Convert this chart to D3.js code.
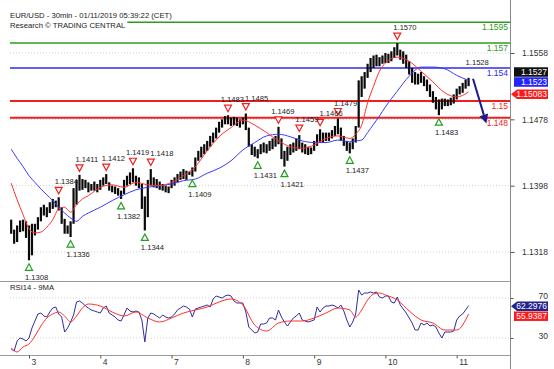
<!DOCTYPE html>
<html><head><meta charset="utf-8">
<script src="https://cdn.jsdelivr.net/npm/d3@7"></script>
<style>body{margin:0;background:#fff}svg{display:block}text{font-family:"Liberation Sans",Arial,sans-serif}</style>
</head><body><svg id="c" width="554" height="369"></svg>
<script>
// ---------- DATA ----------
const title1 = "EUR/USD - 30min - 01/11/2019 05:39:22 (CET)";
const title2 = "Research \u00A9 TRADING CENTRAL";
const rsiTitle = "RSI14 - 9MA";
const firstHour = -6; // hourly bars, hour 0 = day "3" 00:00 (trading time)
const highs = [
 1.1357,1.1345,1.1350,1.1356,1.1357,1.1355,1.1350,
 1.1352,1.1352,1.1360,1.1372,1.1375,1.1372,1.1378,1.1382,1.1380,1.1384,
 1.1372,1.1358,1.1350,1.1355,1.1395,1.1405,1.1411,1.1406,1.1405,1.1402,
 1.1400,1.1403,1.1400,1.1405,1.1408,1.1412,1.1402,1.1398,1.1397,1.1395,
 1.1392,1.1405,1.1410,1.1414,1.1419,1.1410,1.1408,1.1400,1.1385,1.1405,
 1.1418,1.1408,1.1406,1.1403,1.1400,1.1398,1.1397,1.1405,1.1408,1.1412,
 1.1415,1.1418,1.1416,1.1415,1.1420,1.1432,1.1440,1.1445,1.1448,1.1452,
 1.1458,1.1462,1.1468,1.1475,1.1478,1.1482,1.1483,1.1480,1.1481,1.1480,
 1.1478,1.1480,1.1485,1.1468,1.1448,1.1445,1.1442,1.1448,1.1450,1.1448,
 1.1452,1.1455,1.1458,1.1469,1.1455,1.1440,1.1445,1.1448,1.1450,1.1455,
 1.1459,1.1450,1.1448,1.1445,1.1444,1.1452,1.1460,1.1466,1.1462,1.1462,
 1.1462,1.1465,1.1470,1.1479,1.1468,1.1458,1.1452,1.1450,1.1455,1.1470,
 1.1525,1.1530,1.1535,1.1545,1.1552,1.1555,1.1556,1.1553,1.1555,1.1558,
 1.1557,1.1560,1.1565,1.1570,1.1562,1.1560,1.1556,1.1548,1.1540,1.1535,
 1.1533,1.1535,1.1530,1.1526,1.1520,1.1512,1.1505,1.1502,1.1503,1.1503,
 1.1502,1.1504,1.1508,1.1515,1.1518,1.1522,1.1526,1.1528];
const lows = [
 1.1340,1.1328,1.1330,1.1342,1.1343,1.1335,1.1308,
 1.1314,1.1338,1.1345,1.1355,1.1362,1.1360,1.1365,1.1370,1.1372,1.1368,
 1.1352,1.1340,1.1340,1.1336,1.1352,1.1375,1.1392,1.1393,1.1395,1.1390,
 1.1392,1.1392,1.1390,1.1393,1.1398,1.1400,1.1392,1.1390,1.1388,1.1386,
 1.1382,1.1388,1.1398,1.1400,1.1402,1.1398,1.1395,1.1370,1.1344,1.1360,
 1.1398,1.1396,1.1395,1.1393,1.1392,1.1390,1.1389,1.1395,1.1398,1.1402,
 1.1405,1.1406,1.1405,1.1411,1.1409,1.1415,1.1428,1.1432,1.1436,1.1440,
 1.1445,1.1450,1.1455,1.1462,1.1468,1.1472,1.1472,1.1470,1.1471,1.1470,
 1.1468,1.1472,1.1465,1.1445,1.1435,1.1433,1.1431,1.1436,1.1438,1.1437,
 1.1440,1.1442,1.1445,1.1448,1.1430,1.1421,1.1428,1.1435,1.1438,1.1440,
 1.1442,1.1438,1.1436,1.1435,1.1436,1.1440,1.1446,1.1450,1.1450,1.1452,
 1.1452,1.1455,1.1458,1.1460,1.1452,1.1446,1.1440,1.1437,1.1442,1.1450,
 1.1468,1.1505,1.1515,1.1528,1.1535,1.1540,1.1542,1.1542,1.1545,1.1546,
 1.1546,1.1548,1.1552,1.1555,1.1550,1.1545,1.1540,1.1532,1.1522,1.1520,
 1.1520,1.1522,1.1518,1.1512,1.1505,1.1498,1.1490,1.1483,1.1490,1.1494,
 1.1494,1.1495,1.1497,1.1502,1.1508,1.1510,1.1515,1.1518];
const maHours = [-6,-4,-2,0,2,4,6,8,10,12,14,16,18,20,24,28,32,36,40,44,48,52,56,60,64,68,72,76,80,84,88,92,96,100,104,108,110,112,114,116,118,120,124,128,132,136,140,144,148];
const redMA = [1.1401,1.1381,1.1363,1.1346,1.1341,1.1342,1.1348,1.1357,1.1370,1.1372,1.1366,1.1375,1.1382,1.1386,1.1396,1.1399,1.1396,1.1402,1.1399,1.1398,1.1402,1.1410,1.1421,1.1440,1.1457,1.1468,1.1477,1.1471,1.1462,1.1452,1.1445,1.1443,1.1447,1.1455,1.1458,1.1455,1.1460,1.1471,1.1498,1.1518,1.1536,1.1546,1.1553,1.1548,1.1536,1.1523,1.1510,1.1505,1.1511];
const blueMA = [1.1442,1.1431,1.1421,1.1410,1.1402,1.1394,1.1387,1.1380,1.1372,1.1365,1.1359,1.1355,1.1361,1.1365,1.1372,1.1380,1.1387,1.1393,1.1396,1.1398,1.1400,1.1404,1.1406,1.1413,1.1419,1.1428,1.1441,1.1450,1.1458,1.1460,1.1457,1.1452,1.1450,1.1450,1.1453,1.1451,1.1452,1.1453,1.1462,1.1472,1.1482,1.1493,1.1512,1.1530,1.1541,1.1541,1.1539,1.1531,1.1525];
const rsi = [
 19,17,27,30,29,27,30,
 40,47,54,55,52,51,56,60,61,54,
 51,36,40,46,53,66,67,65,62,60,
 58,57,56,55,60,62,55,53,51,48,
 47,53,60,57,56,57,56,48,26,50,
 55,54,52,50,53,51,50,51,54,58,
 60,62,61,59,51,59,60,61,62,63,
 61,69,72,71,70,72,73,72,67,65,
 65,65,56,41,38,35,36,44,44,45,
 50,50,48,58,51,46,42,46,50,52,
 55,48,47,46,47,48,61,56,60,62,
 62,63,62,60,63,57,48,41,46,54,
 78,73,75,75,76,75,76,71,70,72,
 72,66,65,71,63,59,55,50,45,38,
 38,45,43,45,42,43,41,35,30,36,
 36,36,37,48,52,54,58,62.3];
const rsiMA = [20,16,21,24,32,42,50,54,56,52,46,52,60,64,62,56,52,56,50,46,50,55,58,61,66,69,63,43,37,45,47,47,50,55,60,58,51,58,68,74,75,73,68,57,48,45,38,38,54];
const dayTicks = [0,24,48,72,96,120,144];
const dayLabels = ["3","4","7","8","9","10","11"];
const priceTicks = [1.1318,1.1398,1.1478,1.1558];
const rsiTicks = [30,70];
const levelValues = [1.1595,1.157,1.154,1.15,1.148];
const levelLabels = ["1.1595","1.157","1.154","1.15","1.148"];
const resistHours = [10,17,26,35,41,67,73,84,91,98,104,124];
const resistValues = [1.1384,1.1411,1.1412,1.1419,1.1418,1.1483,1.1485,1.1469,1.1459,1.1466,1.1479,1.1570];
const supportHours = [0,14,31,39,55,77,86,108,138];
const supportValues = [1.1308,1.1336,1.1382,1.1344,1.1409,1.1431,1.1421,1.1437,1.1483];
const lastHighHour = 148, lastHighValue = 1.1528;
const lastClose = 1.1527, lastBlueMA = 1.1523, lastRedMA = 1.15083;
const lastRsi = 62.2976, lastRsiMA = 55.9387;
const forecastHours = [149.5, 154];
const forecastValues = [1.1527, 1.1473];

// ---------- DRAW ----------
const svg = d3.select("#c");
const plotL = 10, plotR = 510;
const x = d3.scaleLinear().domain([0,144]).range([29,456.7]);
const y = d3.scaleLinear().domain([1.1318,1.1558]).range([252,53]);
const yr = d3.scaleLinear().domain([30,70]).range([338,298]);

const levelColors = ["#2f9a22","#2f9a22","#2b2bf0","#f01e1e","#f01e1e"];
const levelWidths = [1.5,1.5,1.6,2,2];
const annFont = 7.6;

// grid
const grid = svg.append("g");
priceTicks.forEach(v => grid.append("line").attr("x1",plotL).attr("x2",plotR).attr("y1",y(v)).attr("y2",y(v))
  .attr("stroke","#cfcfcf").attr("stroke-dasharray","1,2"));
rsiTicks.forEach(v => grid.append("line").attr("x1",plotL).attr("x2",plotR).attr("y1",yr(v)).attr("y2",yr(v))
  .attr("stroke","#cfcfcf").attr("stroke-dasharray","1,2"));

// level lines
levelValues.forEach((v,i) => {
  svg.append("line").attr("x1",plotL).attr("x2",plotR).attr("y1",y(v)).attr("y2",y(v))
    .attr("stroke",levelColors[i]).attr("stroke-width",levelWidths[i]);
});

// candles (high-low bars)
svg.append("g").selectAll("rect").data(highs).join("rect")
  .attr("x",(d,i)=>x(firstHour+i)-1.1).attr("width",2.2)
  .attr("y",d=>y(d)).attr("height",(d,i)=>Math.max(1,y(lows[i])-y(d)))
  .attr("fill","#0a0a0a");

// moving averages
const maLine = d3.line().x((d,i)=>x(maHours[i])).y(d=>y(d)).curve(d3.curveMonotoneX);
svg.append("path").attr("d",maLine(blueMA)).attr("fill","none").attr("stroke","#3a3aff").attr("stroke-width",1);
svg.append("path").attr("d",maLine(redMA)).attr("fill","none").attr("stroke","#ff3030").attr("stroke-width",1);

// level labels
levelValues.forEach((v,i) => {
  svg.append("text").attr("x",508).attr("y",y(v)+8).attr("text-anchor","end")
    .attr("font-size",8.5).attr("fill",levelColors[i]).text(levelLabels[i]);
});

// label placement helper: avoid overlap between neighbouring labels on similar rows
function placeLabels(texts){
  const items = texts.map(t => ({t, x:+t.attr("x"), y:+t.attr("y"), w:t.node().getComputedTextLength()}));
  for(let k=0;k<3;k++){
    for(let i=1;i<items.length;i++){
      const a=items[i-1], b=items[i];
      if(Math.abs(a.y-b.y) < 9){
        const ov = a.x + a.w + 1 - b.x;
        if(ov > 0){ a.x -= ov/2; b.x += ov/2; }
      }
    }
  }
  items.forEach(it => it.t.attr("x", it.x));
}

const markG = svg.append("g");
const labelG = svg.append("g");
// resistance markers
const rTexts = [];
resistHours.forEach((h,i) => {
  const cx = x(h), cy = y(resistValues[i]) - 7;
  markG.append("path").attr("d",`M${cx-3.5},${cy-3}L${cx+3.5},${cy-3}L${cx},${cy+3.5}Z`)
    .attr("fill","#fff").attr("stroke","#f02020").attr("stroke-width",1.2);
  rTexts.push(labelG.append("text").attr("x",cx-4).attr("y",y(resistValues[i])-13).attr("font-size",annFont)
    .attr("fill","#222").text(resistValues[i].toFixed(4)));
});
placeLabels(rTexts);
labelG.append("text").attr("x",x(lastHighHour)-3).attr("y",y(lastHighValue)-13).attr("font-size",annFont)
  .attr("fill","#222").text(lastHighValue.toFixed(4));
// support markers
const sTexts = [];
supportHours.forEach((h,i) => {
  const cx = x(h), cy = y(supportValues[i]) + 7;
  markG.append("path").attr("d",`M${cx-3.5},${cy+3}L${cx+3.5},${cy+3}L${cx},${cy-3.5}Z`)
    .attr("fill","#fff").attr("stroke","#22a022").attr("stroke-width",1.2);
  sTexts.push(labelG.append("text").attr("x",cx-4).attr("y",y(supportValues[i])+20).attr("font-size",annFont)
    .attr("fill","#222").text(supportValues[i].toFixed(4)));
});
placeLabels(sTexts);

// forecast arrow
{
  const x1 = x(forecastHours[0]), y1 = y(forecastValues[0]);
  const x2 = x(forecastHours[1]), y2 = y(forecastValues[1]);
  const ang = Math.atan2(y2-y1, x2-x1), L = 9, W = 4.5;
  const bx = x2 - L*Math.cos(ang), by = y2 - L*Math.sin(ang);
  svg.append("line").attr("x1",x1).attr("y1",y1).attr("x2",bx).attr("y2",by)
    .attr("stroke","#1c1c8a").attr("stroke-width",2);
  svg.append("path").attr("d",`M${x2},${y2}L${bx+W*Math.sin(ang)},${by-W*Math.cos(ang)}L${bx-W*Math.sin(ang)},${by+W*Math.cos(ang)}Z`)
    .attr("fill","#1c1c8a");
}

// RSI
const rsiLine = d3.line().x((d,i)=>x(firstHour+i)).y(d=>yr(d));
svg.append("path").attr("d",rsiLine(rsi)).attr("fill","none").attr("stroke","#2e2e9e").attr("stroke-width",1);
const rsiMALine = d3.line().x((d,i)=>x(maHours[i])).y(d=>yr(d)).curve(d3.curveMonotoneX);
svg.append("path").attr("d",rsiMALine(rsiMA)).attr("fill","none").attr("stroke","#ff3030").attr("stroke-width",1);

// panel lines
svg.append("line").attr("x1",0).attr("x2",plotR).attr("y1",281.5).attr("y2",281.5).attr("stroke","#9a9a9a");
svg.append("line").attr("x1",0).attr("x2",plotR).attr("y1",355.5).attr("y2",355.5).attr("stroke","#9a9a9a");
svg.append("line").attr("x1",plotR+0.5).attr("x2",plotR+0.5).attr("y1",0).attr("y2",369).attr("stroke","#8a8a8a");

// axes
const pAxis = svg.append("g").attr("transform",`translate(${plotR+0.5},0)`)
  .call(d3.axisRight(y).tickValues(priceTicks).tickFormat(d3.format(".4f")).tickSize(4));
const rAxis = svg.append("g").attr("transform",`translate(${plotR+0.5},0)`)
  .call(d3.axisRight(yr).tickValues(rsiTicks).tickSize(3));
[pAxis,rAxis].forEach(g => {
  g.select(".domain").remove();
  g.selectAll("line").attr("stroke","#555");
  g.selectAll("text").attr("x",37.5).attr("text-anchor","end").attr("font-size",8.5)
    .attr("fill","#333").attr("font-family","Liberation Sans, Arial, sans-serif");
});
rAxis.selectAll("text").attr("dy","0.1em");
const xAxis = svg.append("g").attr("transform","translate(0,355.5)")
  .call(d3.axisBottom(x).tickValues(dayTicks).tickFormat((d,i)=>dayLabels[i]).tickSize(3).tickPadding(0));
xAxis.select(".domain").remove();
xAxis.selectAll("line").attr("stroke","#555");
xAxis.selectAll("text").attr("x",2).attr("text-anchor","start").attr("font-size",8.5)
  .attr("fill","#333").attr("font-family","Liberation Sans, Arial, sans-serif");

// value boxes
function box(cy, label, fill, pointer){
  const g = svg.append("g");
  const l = 514, r = 548, h = 9.5;
  if(pointer){
    g.append("path").attr("d",`M${l-3},${cy}L${l+3},${cy-h/2}L${r},${cy-h/2}L${r},${cy+h/2}L${l+3},${cy+h/2}Z`).attr("fill",fill);
  } else {
    g.append("rect").attr("x",l).attr("y",cy-h/2).attr("width",r-l).attr("height",h).attr("fill",fill);
  }
  g.append("text").attr("x",r-1).attr("y",cy+3).attr("text-anchor","end").attr("font-size",8.5)
    .attr("fill","#fff").text(label);
}
box(y(lastBlueMA)-10, lastClose.toFixed(4), "#111", false);
box(y(lastBlueMA), lastBlueMA.toFixed(4), "#2424ff", false);
box(y(lastRedMA), lastRedMA.toFixed(5), "#ff1a1a", true);
box(yr(lastRsi)+0.5, lastRsi.toFixed(4), "#23238c", true);
box(yr(lastRsi)+10.5, lastRsiMA.toFixed(4), "#ff1a1a", false);

// titles
const t2 = svg.append("text").attr("x",10).attr("y",27.5).attr("font-size",7.7).attr("fill","#222").text(title2);
const w2 = t2.node().getComputedTextLength();
svg.insert("rect","text").attr("x",8).attr("y",19).attr("width",w2+4).attr("height",10).attr("fill","#fff");
svg.append("text").attr("x",10).attr("y",17.5).attr("font-size",7.7).attr("fill","#222").text(title1);
svg.append("text").attr("x",10).attr("y",290).attr("font-size",7.7).attr("fill","#222").text(rsiTitle);
</script></body></html>
